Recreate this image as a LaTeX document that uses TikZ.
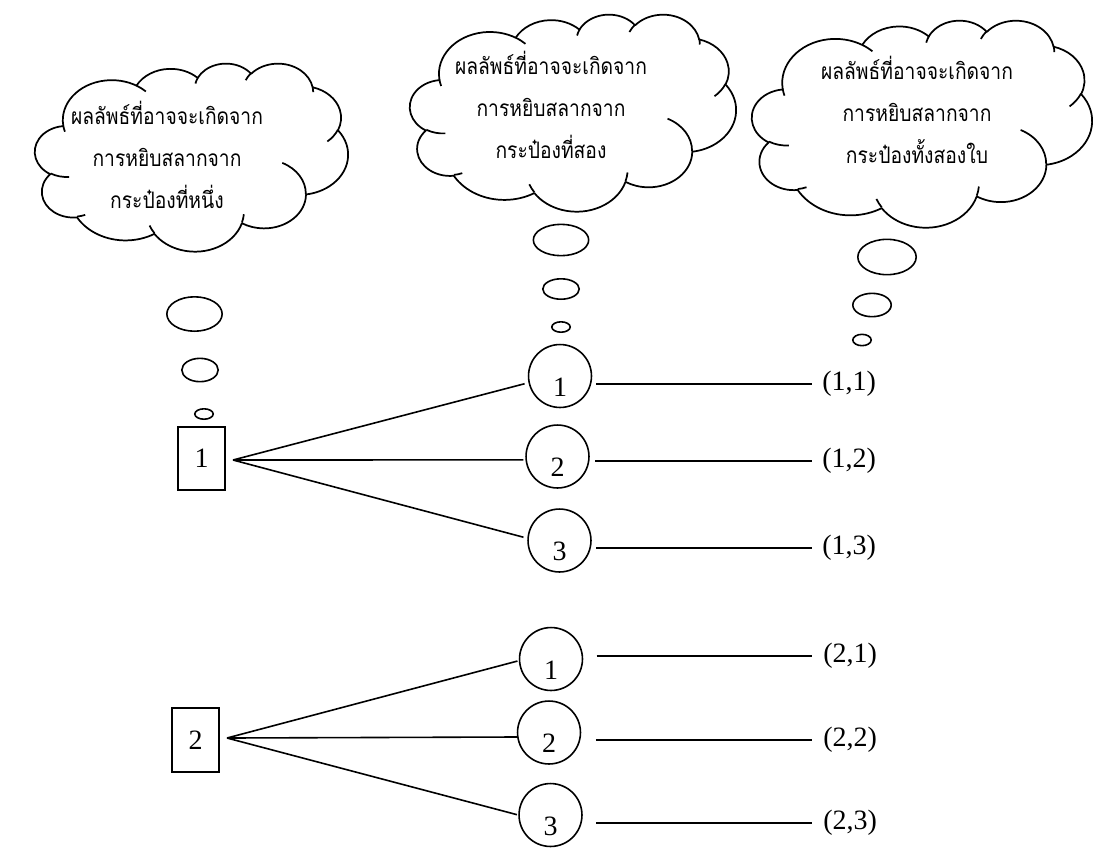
\documentclass[tikz,border=0pt]{standalone}
\usepackage{fontspec}
\setmainfont{Liberation Serif}
\newfontfamily\thaifont[Script=Thai, FakeStretch=0.85]{Loma}
\usetikzlibrary{shapes.geometric}
% elliptical arc in DrawingML style: wR, hR, visual start angle, sweep (degrees)
\newcommand\cldA[4]{arc[x radius=#1, y radius=#2,
  start angle={atan2((#1)*sin(#3),(#2)*cos(#3))},
  delta angle={mod(atan2((#1)*sin((#3)+(#4)),(#2)*cos((#3)+(#4)))-atan2((#1)*sin(#3),(#2)*cos(#3))+720,360)}]}
\newcommand\drawcloud[4]{%
  \pgfmathsetmacro\cldsx{(#3)/432*0.75}%
  \pgfmathsetmacro\cldsy{(#4)/432*0.75}%
  \begin{scope}[shift={(#1,#2)}, x=\cldsx pt, y=-\cldsy pt]
    \draw[cloudline] (39.00,143.70)
      \cldA{67.53}{91.90}{-190.4875}{123.7805}
      \cldA{53.33}{72.67}{-144.1024}{89.9452}
      \cldA{43.65}{59.45}{-145.8079}{99.7230}
      \cldA{48.57}{65.95}{-130.9861}{117.2417}
      \cldA{53.33}{72.73}{-78.7089}{109.0269}
      \cldA{67.75}{92.20}{-46.2673}{130.2690}
      \cldA{57.85}{78.67}{0.6250}{114.0333}
      \cldA{67.52}{92.15}{22.4516}{115.1726}
      \cldA{77.20}{105.43}{66.2426}{75.7110}
      \cldA{43.60}{59.18}{-274.9421}{146.7356}
      \cldA{43.45}{59.45}{-246.8285}{152.5189}
      -- cycle;
    \draw[cloudline]
      (46.93,261.77) \cldA{43.45}{59.45}{86.742}{26.4295}
      (69.28,348.99) \cldA{43.60}{59.18}{73.6105}{11.4475}
      (164.78,390.90) \cldA{67.52}{92.15}{137.6242}{14.0811}
      (288.27,347.51) \cldA{67.52}{92.15}{6.4533}{15.9984}
      (341.29,229.54) \cldA{57.85}{78.67}{-70.2924}{70.9174}
      (417.98,153.54) \cldA{53.33}{72.73}{30.318}{27.7515}
      (383.24,54.26) \cldA{48.57}{65.95}{-13.7443}{14.8589}
      (290.78,39.52) \cldA{48.57}{65.95}{-149.1815}{18.1954}
      (221.41,47.20) \cldA{43.65}{59.45}{-163.4943}{17.6864}
      (140.00,51.92) \cldA{67.53}{91.90}{-66.707}{12.3194}
      (41.27,157.89) \cldA{67.53}{91.90}{157.6544}{11.8582};
  \end{scope}}
\newcommand\lownum[1]{\raisebox{-15.35pt}[0pt][0pt]{#1}}
\begin{document}
\begin{tikzpicture}[x=0.75pt,y=-0.75pt,
  every node/.style={font=\fontsize{21}{25}\selectfont},
  thai/.style={font=\thaifont\fontsize{17}{31.5}\selectfont, align=center, inner sep=0pt},
  bub/.style={ellipse, draw, line width=1.2pt, inner sep=0pt},
  numbox/.style={rectangle, draw, line width=1.2pt, minimum width=35.5pt, minimum height=47.6pt, inner sep=0pt},
  numcirc/.style={circle, draw, line width=1.2pt, minimum size=47.2pt, inner sep=0pt},
  pair/.style={anchor=west, inner sep=0pt},
  conn/.style={line width=1.2pt},
  cloudline/.style={line width=1.3pt, line join=round}]
\useasboundingbox (0,0) rectangle (1109,847);

% clouds
\drawcloud{35}{63}{313}{188}
\drawcloud{410}{14}{326}{197}
\drawcloud{752}{20}{340}{207}

\node[thai] (t1) at (167,155) {ผลลัพธ์ที่อาจจะเกิดจาก\\การหยิบสลากจาก\\กระป๋องที่หนึ่ง};
\node[thai] (t2) at (551,105) {ผลลัพธ์ที่อาจจะเกิดจาก\\การหยิบสลากจาก\\กระป๋องที่สอง};
\node[thai] (t3) at (917,110) {ผลลัพธ์ที่อาจจะเกิดจาก\\การหยิบสลากจาก\\กระป๋องทั้งสองใบ};

% thought bubbles
\node[bub, minimum width=41.5pt, minimum height=25.8pt] (b11) at (194.5,314) {};
\node[bub, minimum width=27.3pt, minimum height=17.5pt] (b12) at (200,370) {};
\node[bub, minimum width=13.8pt, minimum height=7.8pt] (b13) at (204,414) {};
\node[bub, minimum width=41.5pt, minimum height=23.5pt] (b21) at (561,240) {};
\node[bub, minimum width=27.3pt, minimum height=15.3pt] (b22) at (561,289) {};
\node[bub, minimum width=13.8pt, minimum height=7.8pt] (b23) at (561,327) {};
\node[bub, minimum width=43.8pt, minimum height=26.5pt] (b31) at (887,257) {};
\node[bub, minimum width=28.8pt, minimum height=17.5pt] (b32) at (872,305) {};
\node[bub, minimum width=13.8pt, minimum height=8.5pt] (b33) at (862,340) {};

% first can
\node[numbox] (k1) at (201.5,458.5) {1};
\node[numbox] (k2) at (195.5,740) {2};
\coordinate (a1) at (233,460);
\coordinate (a2) at (227,738);

% second can
\node[numcirc] (c11) at (560,376) {\lownum{1}};
\node[numcirc] (c12) at (557.5,456.5) {\lownum{2}};
\node[numcirc] (c13) at (559.5,540.5) {\lownum{3}};
\node[numcirc] (c21) at (551,659) {\lownum{1}};
\node[numcirc] (c22) at (549,732.5) {\lownum{2}};
\node[numcirc] (c23) at (550.5,815) {\lownum{3}};

% outcomes
\node[pair] (p11) at (822,384) {(1,1)};
\node[pair] (p12) at (822,461) {(1,2)};
\node[pair] (p13) at (822,548) {(1,3)};
\node[pair] (p21) at (823,656) {(2,1)};
\node[pair] (p22) at (823,740) {(2,2)};
\node[pair] (p23) at (823,823) {(2,3)};

% connectors
\draw[conn, shorten >=3pt] (a1) -- (c11.192);
\draw[conn, shorten >=1.5pt] (a1) -- (c12.186);
\draw[conn, shorten >=3pt] (a1) -- (c13.176);
\draw[conn, shorten >=1pt] (a2) -- (c21.183);
\draw[conn] (a2) -- (c22.188);
\draw[conn, shorten >=1pt] (a2) -- (c23.180);

\draw[conn, shorten <=3pt, shorten >=7.5pt] (c11.east |- p11.west) -- (p11.west);
\draw[conn, shorten <=4pt, shorten >=7.5pt] (c12.east |- p12.west) -- (p12.west);
\draw[conn, shorten <=3.5pt, shorten >=7.5pt] (c13.east |- p13.west) -- (p13.west);
\draw[conn, shorten <=10pt, shorten >=8pt] (c21.east |- p21.west) -- (p21.west);
\draw[conn, shorten <=11pt, shorten >=8pt] (c22.east |- p22.west) -- (p22.west);
\draw[conn, shorten <=10pt, shorten >=8pt] (c23.east |- p23.west) -- (p23.west);
\end{tikzpicture}
\end{document}
